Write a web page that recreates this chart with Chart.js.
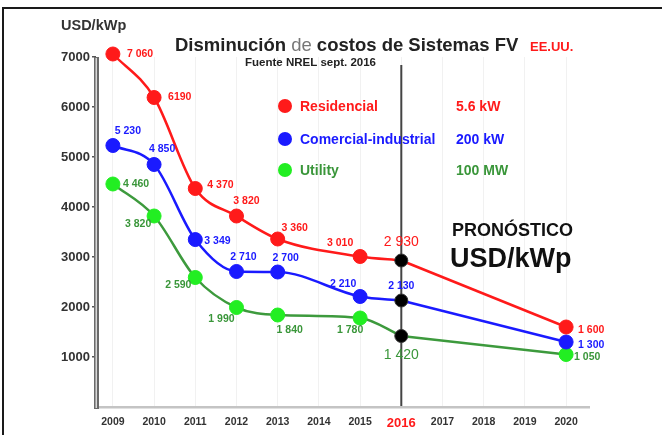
<!DOCTYPE html>
<html>
<head>
<meta charset="utf-8">
<script src="https://cdn.jsdelivr.net/npm/chart.js@4"></script>
<style>
  html, body { margin: 0; padding: 0; background: #fff; overflow: hidden; }
  canvas { display: block; }
</style>
</head>
<body>
<canvas id="chart" width="662" height="435"></canvas>
<script>
    // ─── Data ─────────────────────────────────────────────────────
    const YEARS = [2009, 2010, 2011, 2012, 2013, 2015, 2016, 2020];
    const X_TICKS = [2009, 2010, 2011, 2012, 2013, 2014, 2015, 2016, 2017, 2018, 2019, 2020];
    const Y_TICKS = [1000, 2000, 3000, 4000, 5000, 6000, 7000];
    const FORECAST_FROM = 2016;

    const residencial = [7060, 6190, 4370, 3820, 3360, 3010, 2930, 1600];
    const comercial = [5230, 4850, 3349, 2710, 2700, 2210, 2130, 1300];
    const utility = [4460, 3820, 2590, 1990, 1840, 1780, 1420, 1050];

    const FONT = '"Liberation Sans", Arial, sans-serif';
    const RED = '#ff1a1a';
    const BLUE = '#1a1aff';
    const GREEN_LINE = '#3d9a3d';
    const GREEN_DOT = '#22ee22';
    const GREEN_TEXT = '#3a963a';

    // label placement per point: [dx, dy, align]
    const SERIES = [
        {
            name: 'Residencial', size: '5.6 kW', values: residencial, line: RED, dot: RED, text: RED, legendY: 106,
            place: [[14, 0, 'left'], [14, 0, 'left'], [12, -3, 'left'], [10, -15, 'center'], [17, -11, 'center'], [-20, -13, 'center'], [0, -18, 'center'], [12, 3, 'left']],
        },
        {
            name: 'Comercial-industrial', size: '200 kW', values: comercial, line: BLUE, dot: BLUE, text: BLUE, legendY: 139,
            place: [[15, -14, 'center'], [8, -15, 'center'], [9, 2, 'left'], [7, -14, 'center'], [8, -14, 'center'], [-17, -12, 'center'], [0, -14, 'center'], [12, 3, 'left']],
        },
        {
            name: 'Utility', size: '100 MW', values: utility, line: GREEN_LINE, dot: GREEN_DOT, text: GREEN_TEXT, legendY: 170,
            place: [[10, 0, 'left'], [-16, 8, 'center'], [-17, 8, 'center'], [-15, 12, 'center'], [12, 15, 'center'], [-10, 12, 'center'], [0, 19, 'center'], [8, 3, 'left']],
        },
    ];

    const splitAt = YEARS.indexOf(FORECAST_FROM);

    function fmt(v) {
        if (v === 6190) return '6190';
        const s = String(v);
        return s.length > 3 ? s.slice(0, s.length - 3) + ' ' + s.slice(-3) : s;
    }

    const datasets = [];
    SERIES.forEach((s) => {
        const hist = YEARS.slice(0, splitAt + 1).map((x, i) => ({ x, y: s.values[i] }));
        const fut = YEARS.slice(splitAt).map((x, i) => ({ x, y: s.values[splitAt + i] }));
        datasets.push({
            data: hist,
            clip: false,
            borderColor: s.line,
            borderWidth: 2.5,
            cubicInterpolationMode: 'monotone',
            pointRadius: hist.map((p) => (p.x === FORECAST_FROM ? 6.5 : 7)),
            pointBackgroundColor: hist.map((p) => (p.x === FORECAST_FROM ? '#000' : s.dot)),
            pointBorderColor: hist.map((p) => (p.x === FORECAST_FROM ? '#333' : s.dot)),
            pointBorderWidth: 1,
            order: 1,
        });
        datasets.push({
            data: fut,
            clip: false,
            borderColor: s.line,
            borderWidth: 2.5,
            tension: 0,
            pointRadius: [0, 7],
            pointBackgroundColor: s.dot,
            pointBorderColor: s.dot,
            pointBorderWidth: 1,
            order: 2,
        });
    });

    // ─── Decorations ──────────────────────────────────────────────
    const decor = {
        id: 'decor',
        beforeDatasetsDraw(chart) {
            const { ctx, chartArea: a, scales } = chart;
            const x16 = scales.x.getPixelForValue(FORECAST_FROM);
            ctx.save();
            // forecast divider
            ctx.strokeStyle = '#444';
            ctx.lineWidth = 2;
            ctx.beginPath();
            ctx.moveTo(x16, 65);
            ctx.lineTo(x16, a.bottom);
            ctx.stroke();
            // bottom axis
            ctx.fillStyle = '#c4c4c4';
            ctx.fillRect(a.left - 2, a.bottom - 1, a.right - a.left + 2, 2.5);
            // y axis (double rule)
            ctx.fillStyle = '#6a6a6a';
            ctx.fillRect(a.left - 2, a.top, 5, a.bottom - a.top + 2);
            ctx.fillStyle = '#d8d8d8';
            ctx.fillRect(a.left - 0.5, a.top + 1, 1.5, a.bottom - a.top);
            ctx.restore();
        },
        afterDatasetsDraw(chart) {
            const { ctx } = chart;
            ctx.save();
            ctx.textBaseline = 'middle';
            SERIES.forEach((s, si) => {
                const histMeta = chart.getDatasetMeta(si * 2);
                const futMeta = chart.getDatasetMeta(si * 2 + 1);
                YEARS.forEach((yr, i) => {
                    const el = i <= splitAt ? histMeta.data[i] : futMeta.data[i - splitAt];
                    const [dx, dy, align] = s.place[i];
                    const big = yr === FORECAST_FROM && si !== 1;
                    ctx.font = big ? `14px ${FONT}` : `bold 10.5px ${FONT}`;
                    ctx.fillStyle = s.text;
                    ctx.textAlign = align;
                    ctx.fillText(fmt(s.values[i]), el.x + dx, el.y + dy);
                });
            });
            ctx.restore();
        },
        afterDraw(chart) {
            const { ctx } = chart;
            ctx.save();
            // frame
            ctx.strokeStyle = '#1a1a1a';
            ctx.lineWidth = 2;
            ctx.strokeRect(3, 8, 720, 520);

            ctx.textBaseline = 'alphabetic';
            ctx.textAlign = 'left';
            // unit
            ctx.fillStyle = '#333';
            ctx.font = `bold 14.5px ${FONT}`;
            ctx.fillText('USD/kWp', 61, 30);

            // title
            let x = 175;
            const parts = [
                ['Disminución ', 'bold', '#222'],
                ['de ', 'normal', '#777'],
                ['costos de Sistemas FV', 'bold', '#222'],
            ];
            parts.forEach(([t, w, c]) => {
                ctx.font = `${w} 18.5px ${FONT}`;
                ctx.fillStyle = c;
                ctx.fillText(t, x, 51);
                x += ctx.measureText(t).width;
            });
            ctx.font = `bold 13px ${FONT}`;
            ctx.fillStyle = RED;
            ctx.fillText('EE.UU.', 530, 51);
            ctx.font = `bold 11.5px ${FONT}`;
            ctx.fillStyle = '#222';
            ctx.fillText('Fuente NREL sept. 2016', 245, 66);

            // legend
            SERIES.forEach((s) => {
                ctx.fillStyle = s.dot;
                ctx.beginPath();
                ctx.arc(285, s.legendY, 7, 0, Math.PI * 2);
                ctx.fill();
                ctx.font = `bold 14px ${FONT}`;
                ctx.fillStyle = s.text;
                ctx.fillText(s.name, 300, s.legendY + 5);
                ctx.fillText(s.size, 456, s.legendY + 5);
            });

            // forecast caption
            ctx.fillStyle = '#111';
            ctx.font = `bold 18px ${FONT}`;
            ctx.fillText('PRONÓSTICO', 452, 236);
            ctx.font = `bold 27px ${FONT}`;
            ctx.fillText('USD/kWp', 450, 267);
            ctx.restore();
        },
    };

    // ─── Chart ────────────────────────────────────────────────────
    new Chart(document.getElementById('chart'), {
        type: 'line',
        data: { datasets },
        plugins: [decor],
        options: {
            responsive: false,
            animation: false,
            layout: { padding: { top: 57, right: 72, left: 0, bottom: 0 } },
            plugins: { legend: { display: false }, tooltip: { enabled: false } },
            scales: {
                x: {
                    type: 'linear',
                    min: 2008.59,
                    max: 2020.58,
                    afterBuildTicks: (sc) => { sc.ticks = X_TICKS.map((value) => ({ value })); },
                    afterFit: (sc) => { sc.height = 28; },
                    border: { display: false },
                    grid: { color: '#f1f1f1', lineWidth: 1, drawTicks: false },
                    ticks: {
                        padding: 9,
                        maxRotation: 0,
                        autoSkip: false,
                        callback: (v) => String(v),
                        color: (c) => (c.tick && c.tick.value === FORECAST_FROM ? RED : '#333'),
                        font: (c) => (c.tick && c.tick.value === FORECAST_FROM
                            ? { family: FONT, size: 13, weight: 'bold' }
                            : { family: FONT, size: 10.5, weight: 'bold' }),
                    },
                },
                y: {
                    type: 'linear',
                    min: 0,
                    max: 7000,
                    afterBuildTicks: (sc) => { sc.ticks = Y_TICKS.map((value) => ({ value })); },
                    afterFit: (sc) => { sc.width = 96; },
                    border: { display: false },
                    grid: { drawOnChartArea: false, drawTicks: true, tickLength: 4, color: '#555', lineWidth: 1.5 },
                    ticks: {
                        padding: 2,
                        color: '#333',
                        font: { family: FONT, size: 13, weight: 'bold' },
                        callback: (v) => String(v),
                    },
                },
            },
        },
    });
</script>
</body>
</html>
